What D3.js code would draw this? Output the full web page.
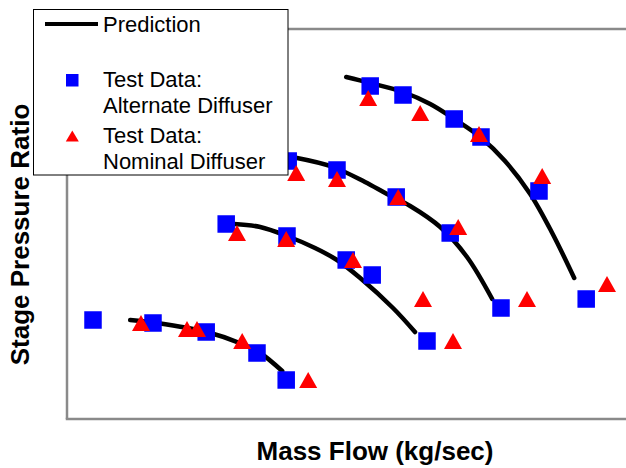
<!DOCTYPE html>
<html>
<head>
<meta charset="utf-8">
<script src="https://cdn.jsdelivr.net/npm/d3@7"></script>
<style>
  body { margin: 0; background: #fff; }
  svg { display: block; }
</style>
</head>
<body>
<svg id="chart" width="626" height="468"></svg>
<script>
// Predicted speed lines: [mass flow (kg/sec), stage pressure ratio]
const prediction1 = [[3.58, 1.33], [4.25, 1.32], [5.5, 1.29], [6.38, 1.25], [6.83, 1.22], [7.38, 1.16]];
const prediction2 = [[6.18, 1.65], [6.83, 1.64], [7.5, 1.61], [8.2, 1.57], [8.75, 1.53], [9.33, 1.47], [10.15, 1.37], [10.7, 1.29]];
const prediction3 = [[7.2, 1.88], [7.75, 1.87], [8.65, 1.84], [9.45, 1.79], [10.0, 1.75], [10.58, 1.71], [11.33, 1.64], [12.0, 1.54], [12.63, 1.40]];
const prediction4 = [[8.98, 2.14], [9.58, 2.12], [10.4, 2.09], [11.08, 2.05], [11.68, 2.00], [12.33, 1.94], [12.95, 1.86], [13.58, 1.75], [14.13, 1.62], [14.68, 1.47]];

// Test data, alternate diffuser
const alternate1 = [[2.65, 1.33], [4.15, 1.32], [5.48, 1.29], [6.75, 1.22], [7.48, 1.13]];
const alternate2 = [[5.98, 1.65], [7.5, 1.61], [8.98, 1.53], [9.63, 1.48], [11.0, 1.26]];
const alternate3 = [[7.53, 1.86], [8.75, 1.83], [10.23, 1.74], [11.58, 1.62], [12.85, 1.37]];
const alternate4 = [[9.58, 2.11], [10.4, 2.08], [11.68, 2.00], [12.35, 1.94], [13.8, 1.76], [14.98, 1.40]];

// Test data, nominal diffuser
const nominal1 = [[3.85, 1.32], [5.0, 1.30], [5.25, 1.30], [6.38, 1.26], [8.03, 1.13]];
const nominal2 = [[6.25, 1.62], [7.48, 1.60], [9.15, 1.53], [10.9, 1.40], [11.65, 1.26]];
const nominal3 = [[7.73, 1.82], [8.75, 1.80], [10.28, 1.74], [11.78, 1.64], [13.5, 1.40]];
const nominal4 = [[9.53, 2.07], [10.83, 2.02], [12.3, 1.95], [13.88, 1.81], [15.5, 1.45]];

const xLabel = "Mass Flow (kg/sec)";
const yLabel = "Stage Pressure Ratio";
const legendLabels = ["Prediction", ["Test Data:", "Alternate Diffuser"], ["Test Data:", "Nominal Diffuser"]];

const predictions = [prediction1, prediction2, prediction3, prediction4];
const alternate = [].concat(alternate1, alternate2, alternate3, alternate4);
const nominal = [].concat(nominal1, nominal2, nominal3, nominal4);

const svg = d3.select("#chart");
const W = 626;

const x = d3.scaleLinear().domain([2, 16]).range([67, 627]);
const y = d3.scaleLinear().domain([1.0, 2.3]).range([419, 29]);

const FONT = "'Liberation Sans', Arial, Helvetica, sans-serif";

// Triangle symbol centred on its bounding box
const triangle = (w, h) => ({
  draw(ctx) {
    ctx.moveTo(0, -h / 2);
    ctx.lineTo(w / 2, h / 2);
    ctx.lineTo(-w / 2, h / 2);
    ctx.closePath();
  }
});

// Plot frame (left, top, bottom)
const frame = svg.append("g").attr("stroke", "#8a8a8a").attr("stroke-width", 2.5).attr("fill", "none");
frame.append("line").attr("x1", x(2)).attr("x2", x(2)).attr("y1", y(2.3)).attr("y2", y(1.0));
frame.append("line").attr("x1", x(2)).attr("x2", W).attr("y1", y(2.3)).attr("y2", y(2.3));
frame.append("line").attr("x1", x(2) - 1.25).attr("x2", W).attr("y1", y(1.0)).attr("y2", y(1.0));

// Prediction lines
const line = d3.line().x(d => x(d[0])).y(d => y(d[1])).curve(d3.curveCatmullRom.alpha(0.5));
svg.append("g").selectAll("path").data(predictions).join("path")
  .attr("d", line)
  .attr("fill", "none")
  .attr("stroke", "#000")
  .attr("stroke-width", 4.5)
  .attr("stroke-linecap", "round");

// Alternate diffuser squares
const sq = 17.5;
svg.append("g").selectAll("rect").data(alternate).join("rect")
  .attr("x", d => x(d[0]) - sq / 2)
  .attr("y", d => y(d[1]) - sq / 2)
  .attr("width", sq).attr("height", sq)
  .attr("fill", "#0000ff");

// Nominal diffuser triangles
const triPath = d3.symbol().type(triangle(18, 16))();
svg.append("g").selectAll("path").data(nominal).join("path")
  .attr("transform", d => `translate(${x(d[0])},${y(d[1])})`)
  .attr("d", triPath)
  .attr("fill", "#ff0000");

// Axis titles
svg.append("text")
  .attr("x", 375).attr("y", 460)
  .attr("text-anchor", "middle")
  .attr("font-family", FONT).attr("font-weight", "bold").attr("font-size", 26)
  .text(xLabel);

svg.append("text")
  .attr("transform", "translate(29,234.5) rotate(-90)")
  .attr("text-anchor", "middle")
  .attr("font-family", FONT).attr("font-weight", "bold").attr("font-size", 26)
  .text(yLabel);

// Legend
const lg = svg.append("g");
lg.append("rect").attr("x", 33.5).attr("y", 9.5).attr("width", 254.5).attr("height", 165.5)
  .attr("fill", "#fff").attr("stroke", "#000").attr("stroke-width", 1);
lg.append("line").attr("x1", 45).attr("x2", 98).attr("y1", 24).attr("y2", 24)
  .attr("stroke", "#000").attr("stroke-width", 4);
const lt = (txt, ty) => lg.append("text").attr("x", 103).attr("y", ty)
  .attr("font-family", FONT).attr("font-size", 22).attr("fill", "#000").text(txt);
lt(legendLabels[0], 32);
lt(legendLabels[1][0], 87);
lt(legendLabels[1][1], 113);
lt(legendLabels[2][0], 143);
lt(legendLabels[2][1], 169);
lg.append("rect").attr("x", 66).attr("y", 74).attr("width", 12.5).attr("height", 12.5).attr("fill", "#0000ff");
lg.append("path").attr("transform", "translate(72.3,136)")
  .attr("d", d3.symbol().type(triangle(13, 11))()).attr("fill", "#ff0000");
</script>
</body>
</html>
